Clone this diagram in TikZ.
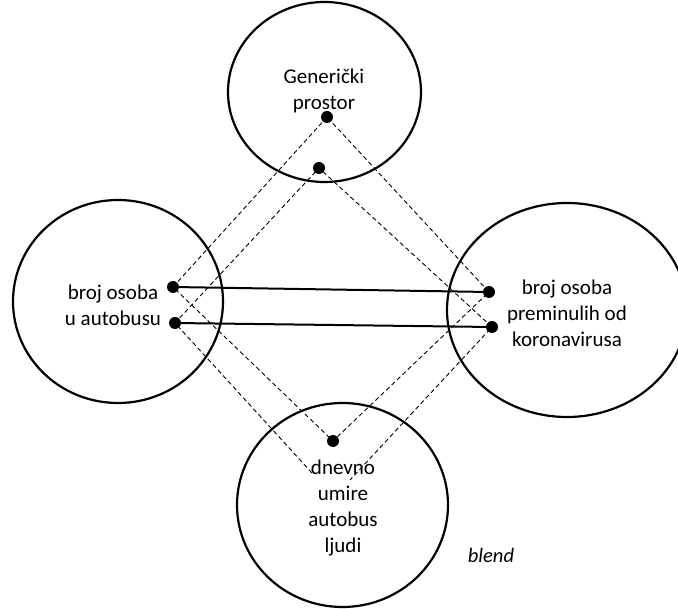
\documentclass[tikz,border=0pt]{standalone}
\usepackage{fontspec}
\setmainfont{Carlito}
\usetikzlibrary{shapes.geometric}
\begin{document}
\begin{tikzpicture}[x=1pt,y=-1pt,
  space/.style={draw, ellipse, line width=2.2pt, inner sep=0pt},
  lbl/.style={align=center, inner sep=0pt, font=\fontsize{21}{25.8}\selectfont},
  dot/.style={circle, fill=black, inner sep=0pt, minimum size=12pt},
  dashln/.style={line width=0.9pt, dash pattern=on 4.5pt off 3pt},
  link/.style={line width=2pt}]
\useasboundingbox (0,0) rectangle (678,609);
% mental spaces
\node[space, minimum width=193pt, minimum height=180pt] (top) at (324.5,92) {};
\node[space, minimum width=210pt, minimum height=203pt] (left) at (118,301.5) {};
\node[space, minimum width=240pt, minimum height=214pt] (right) at (567,310) {};
\node[space, minimum width=211pt, minimum height=204pt] (bottom) at (342.5,505) {};
% elements
\node[dot] (g1) at (327,117) {};
\node[dot] (g2) at (319,168) {};
\node[dot] (l1) at (173,287) {};
\node[dot] (l2) at (175,323) {};
\node[dot] (r1) at (489,292) {};
\node[dot] (r2) at (492,327) {};
\node[dot] (b1) at (333,441) {};
\coordinate (b2l) at (312,473);
\coordinate (b2r) at (350,480);
% projections
\draw[dashln] (g1.center) -- (l1.center) -- (b1.center) -- (r1.center) -- cycle;
\draw[dashln] (b2l) -- (l2.center) -- (g2.center) -- (r2.center) -- (b2r);
% cross-space mappings
\draw[link] (l1.center) -- (r1.center);
\draw[link] (l2.center) -- (r2.center);
% labels
\node[lbl] (tgen) at (324,91) {Generički\\prostor};
\node[lbl] (tleft) at (113,305) {broj osoba\\u autobusu};
\node[lbl] (tright) at (567,313) {broj osoba\\preminulih od\\koronavirusa};
\node[lbl] (tbottom) at (343,508) {dnevno\\umire\\autobus\\ljudi};
\node[lbl, font=\fontsize{20.5}{24}\selectfont\itshape] (tblend) at (491,555) {blend};
\end{tikzpicture}
\end{document}
